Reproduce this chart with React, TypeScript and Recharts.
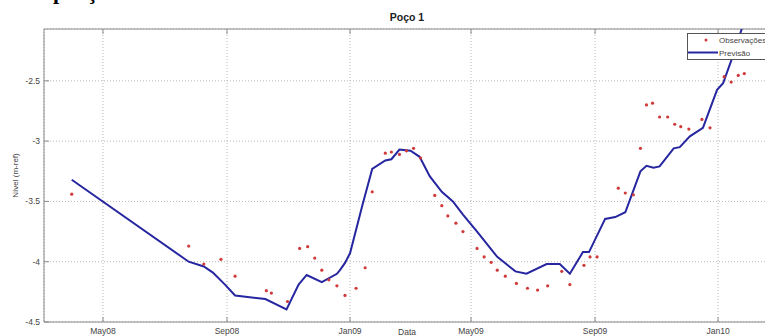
import {
  ComposedChart,
  Line,
  Scatter,
  XAxis,
  YAxis,
  CartesianGrid,
  Legend,
  ReferenceLine,
} from "recharts";

// Eixo X em dias desde 2008-01-01
const tickDias = [121, 244, 366, 486, 609, 731];
const tickLabels = ["May08", "Sep08", "Jan09", "May09", "Sep09", "Jan10"];
const yTicks = [-4.5, -4, -3.5, -3, -2.5];

// Previsão (linha azul)
const prevDias = [
  90, 206, 221, 230, 242, 252, 282, 303, 315, 323, 338, 353, 356, 361, 366,
  378, 388, 401, 407, 415, 426, 435, 445, 457, 468, 478, 492, 512, 530, 541,
  561, 574, 584, 597, 603, 619, 629, 639, 654, 660, 667, 673, 687, 693, 703,
  716, 730, 736, 745, 758,
];
const prevNivel = [
  -3.32, -4.0, -4.04, -4.09, -4.19, -4.28, -4.31, -4.395, -4.19, -4.11, -4.17,
  -4.1, -4.07, -4.01, -3.93, -3.54, -3.23, -3.16, -3.15, -3.07, -3.08, -3.13,
  -3.29, -3.42, -3.5, -3.61, -3.75, -3.96, -4.08, -4.1, -4.02, -4.02, -4.1,
  -3.92, -3.92, -3.645, -3.63, -3.59, -3.25, -3.205, -3.22, -3.21, -3.06,
  -3.05, -2.96, -2.89, -2.575, -2.52, -2.31, -1.98,
];

// Observações (pontos vermelhos)
const obsDias = [
  90, 206, 221, 238, 252, 283, 288, 304, 316, 324, 331, 338, 345, 353, 361,
  372, 381, 388, 401, 407, 415, 422, 429, 436, 450, 457, 463, 471, 478, 492,
  499, 506, 512, 520, 531, 542, 552, 562, 576, 584, 598, 604, 611, 632, 639,
  647, 654, 660, 666, 673, 681, 688, 694, 702, 715, 723, 737, 744, 751, 757,
];
const obsNivel = [
  -3.44, -3.87, -4.02, -3.98, -4.12, -4.24, -4.26, -4.33, -3.89, -3.875, -3.97,
  -4.07, -4.15, -4.2, -4.28, -4.22, -4.05, -3.42, -3.1, -3.09, -3.11, -3.08,
  -3.06, -3.14, -3.45, -3.535, -3.62, -3.68, -3.75, -3.89, -3.96, -4.005,
  -4.07, -4.12, -4.18, -4.22, -4.235, -4.2, -4.08, -4.19, -4.03, -3.96, -3.96,
  -3.39, -3.43, -3.445, -3.06, -2.7, -2.685, -2.8, -2.8, -2.86, -2.88, -2.9,
  -2.82, -2.89, -2.465, -2.51, -2.455, -2.44,
];

const X_DOMAIN: [number, number] = [62.5, 782.5];
const Y_DOMAIN: [number, number] = [-4.5, -2.07];

const PLOT_TOP = 29;
const AXIS_COLOR = "#8a8a8a";
const TEXT_COLOR = "#444";
const LINE_COLOR = "#2626a0";
const OBS_COLOR = "#d03a3a";
const FONT = "'Liberation Sans', Arial, sans-serif";

const prevData = prevDias.map((d, i) => ({ x: d, prev: prevNivel[i] }));
const obsData = obsDias.map((d, i) => ({ x: d, obs: obsNivel[i] }));

function XTick({ x, y, payload }: any) {
  const i = tickDias.indexOf(payload.value);
  return (
    <g>
      <line x1={x} x2={x} y1={y} y2={y - 5} stroke={AXIS_COLOR} />
      <line x1={x} x2={x} y1={PLOT_TOP} y2={PLOT_TOP + 5} stroke={AXIS_COLOR} />
      <text
        x={x}
        y={y + 12}
        textAnchor="middle"
        fontSize={8.5}
        fontFamily={FONT}
        fill={TEXT_COLOR}
      >
        {tickLabels[i]}
      </text>
    </g>
  );
}

function YTick({ x, y, payload }: any) {
  return (
    <g>
      <line x1={x} x2={x + 5} y1={y} y2={y} stroke={AXIS_COLOR} />
      <text
        x={x - 4}
        y={y}
        dy="0.35em"
        textAnchor="end"
        fontSize={8.5}
        fontFamily={FONT}
        fill={TEXT_COLOR}
      >
        {String(payload.value)}
      </text>
    </g>
  );
}

function ObsDot({ cx, cy }: any) {
  return <circle cx={cx} cy={cy} r={1.6} fill={OBS_COLOR} />;
}

function LegendBox() {
  return (
    <svg width={82} height={27} style={{ display: "block" }}>
      <rect x={0.5} y={0.5} width={81} height={26} fill="#fff" stroke="#555" />
      <circle cx={19} cy={7} r={1.5} fill={OBS_COLOR} />
      <text x={32} y={10} fontSize={8} fontFamily={FONT} fill={TEXT_COLOR}>
        Observações
      </text>
      <line x1={1} x2={31} y1={19.5} y2={19.5} stroke={LINE_COLOR} strokeWidth={2} />
      <text x={32} y={23} fontSize={8} fontFamily={FONT} fill={TEXT_COLOR}>
        Previsão
      </text>
    </svg>
  );
}

export default function App() {
  return (
    <div
      style={{
        position: "absolute",
        left: 0,
        top: 0,
        width: 765,
        height: 336,
        overflow: "hidden",
        background: "#fff",
      }}
    >
      <ComposedChart
        width={775}
        height={336}
        margin={{ top: PLOT_TOP, right: 5, bottom: 0, left: 0 }}
      >
        <CartesianGrid stroke="#b8b8b8" strokeDasharray="1 2" />
        <XAxis
          type="number"
          dataKey="x"
          domain={X_DOMAIN}
          allowDataOverflow
          ticks={tickDias}
          height={14}
          tickSize={0}
          tickMargin={0}
          tick={<XTick />}
          stroke={AXIS_COLOR}
          label={(props: any) => {
            const vb = props.viewBox;
            return (
              <text
                x={vb.x + vb.width / 2}
                y={335}
                textAnchor="middle"
                fontSize={8.5}
                fontFamily={FONT}
                fill={TEXT_COLOR}
              >
                Data
              </text>
            );
          }}
        />
        <YAxis
          type="number"
          domain={Y_DOMAIN}
          allowDataOverflow
          ticks={yTicks}
          width={44}
          tickSize={0}
          tickMargin={0}
          tick={<YTick />}
          stroke={AXIS_COLOR}
          label={(props: any) => {
            const vb = props.viewBox;
            const cy = vb.y + vb.height / 2;
            return (
              <text
                x={15}
                y={cy}
                transform={`rotate(-90 15 ${cy})`}
                textAnchor="middle"
                dominantBaseline="central"
                fontSize={8}
                fontFamily={FONT}
                fill={TEXT_COLOR}
              >
                Nível (m-ref)
              </text>
            );
          }}
        />
        <ReferenceLine y={Y_DOMAIN[1]} stroke={AXIS_COLOR} />
        <Scatter
          name="Observações"
          data={obsData}
          dataKey="obs"
          fill={OBS_COLOR}
          shape={<ObsDot />}
          isAnimationActive={false}
        />
        <Line
          name="Previsão"
          data={prevData}
          dataKey="prev"
          type="linear"
          stroke={LINE_COLOR}
          strokeWidth={2}
          dot={false}
          activeDot={false}
          isAnimationActive={false}
        />
        <Legend
          layout="vertical"
          align="center"
          verticalAlign="middle"
          content={<LegendBox />}
          wrapperStyle={{ left: 687, top: 33, width: 82, height: 27 }}
        />
      </ComposedChart>
      <svg
        width={765}
        height={336}
        style={{ position: "absolute", left: 0, top: 0, pointerEvents: "none" }}
      >
        <text
          x={53}
          y={-1.5}
          fontSize={22}
          fontWeight="bold"
          fontFamily="'Liberation Serif', 'Times New Roman', serif"
          letterSpacing={5.4}
          fill="#000"
        >
          poço
        </text>
        <text
          x={407}
          y={21}
          textAnchor="middle"
          fontSize={10.5}
          fontWeight="bold"
          fontFamily={FONT}
          fill="#222"
        >
          Poço 1
        </text>
      </svg>
    </div>
  );
}
